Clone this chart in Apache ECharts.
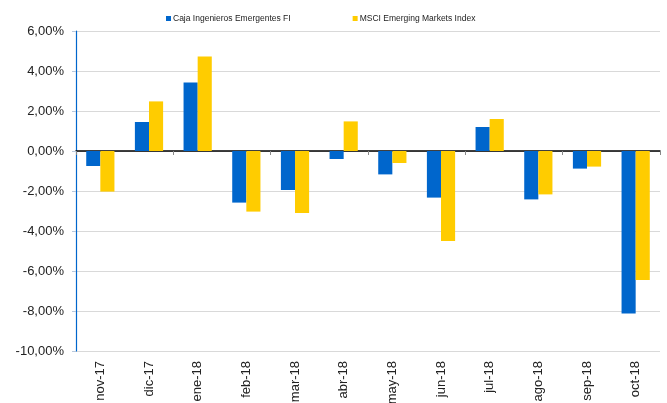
<!DOCTYPE html>
<html>
<head>
<meta charset="utf-8">
<script src="https://cdn.jsdelivr.net/npm/echarts@6/dist/echarts.min.js"></script>
<style>
  html, body { margin: 0; padding: 0; background: #fff; }
  #main { width: 667px; height: 403px; }
</style>
</head>
<body>
<div id="main"></div>
<script>
// datos del gráfico (rentabilidad mensual, %)
var meses = ['nov-17', 'dic-17', 'ene-18', 'feb-18', 'mar-18', 'abr-18', 'may-18', 'jun-18', 'jul-18', 'ago-18', 'sep-18', 'oct-18'];
var fondo = [-0.75, 1.45, 3.43, -2.58, -1.95, -0.40, -1.17, -2.33, 1.20, -2.42, -0.88, -8.13];
var indice = [-2.03, 2.48, 4.73, -3.03, -3.10, 1.48, -0.60, -4.50, 1.60, -2.17, -0.78, -6.45];
var nombreFondo = 'Caja Ingenieros Emergentes FI';
var nombreIndice = 'MSCI Emerging Markets Index';

var myChart = echarts.init(document.getElementById('main'));

var option = {
    animation: false,
    textStyle: { fontFamily: 'Liberation Sans, Arial, sans-serif' },
    color: ['#0066CC', '#FFCC00'],
    legend: {
        left: 161,
        top: 9,
        icon: 'rect',
        itemWidth: 5,
        itemHeight: 5,
        itemGap: 62,
        textStyle: { fontSize: 8.5, color: '#222', padding: [0, 0, 0, -3] },
        data: [nombreFondo, nombreIndice]
    },
    grid: { left: 76, right: 7, top: 31, bottom: 52, outerBoundsMode: 'none', containLabel: false },
    xAxis: [
        {
            type: 'category',
            data: meses,
            position: 'bottom',
            axisLine: { show: false, onZero: false },
            axisTick: { show: false },
            axisLabel: { rotate: 90, fontSize: 13, color: '#222', margin: 10 }
        },
        {
            type: 'category',
            data: meses,
            position: 'bottom',
            axisLine: { show: true, onZero: true, lineStyle: { color: '#000', width: 1.5 } },
            axisTick: { show: true, length: 4, lineStyle: { color: '#888' } },
            axisLabel: { show: false }
        }
    ],
    yAxis: {
        type: 'value',
        min: -10,
        max: 6,
        interval: 2,
        axisLine: { show: true, lineStyle: { color: '#0066CC', width: 1.2 } },
        axisTick: { show: true, length: 4, lineStyle: { color: '#b8c8dc' } },
        splitLine: { lineStyle: { color: '#d9d9d9' } },
        axisLabel: {
            fontSize: 13,
            color: '#222',
            margin: 12,
            formatter: function (v) { return v.toFixed(2).replace('.', ',') + '%'; }
        }
    },
    series: [
        {
            name: nombreFondo,
            type: 'bar',
            xAxisIndex: 0,
            data: fondo,
            barGap: '0%',
            barCategoryGap: '42%'
        },
        {
            name: nombreIndice,
            type: 'bar',
            xAxisIndex: 0,
            data: indice,
            barGap: '0%',
            barCategoryGap: '42%'
        }
    ]
};
myChart.setOption(option);
</script>
</body>
</html>
